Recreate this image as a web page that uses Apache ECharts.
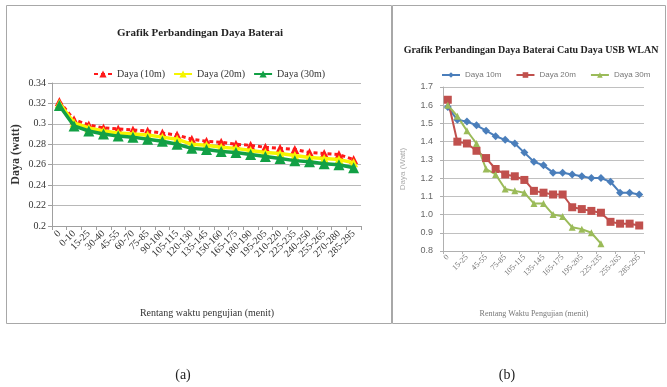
<!DOCTYPE html>
<html><head><meta charset="utf-8">
<script src="https://cdn.jsdelivr.net/npm/echarts@6/dist/echarts.min.js"></script>
<style>html,body{margin:0;padding:0;background:#fff}#c{width:667px;height:387px}</style>
</head><body><div id="c"></div>
<script>
// ---- Chart (a) ----
const catsA = ['0','0-10','15-25','30-40','45-55','60-70','75-85','90-100','105-115','120-130','135-145','150-160','165-175','180-190','195-205','210-220','225-235','240-250','255-265','270-280','285-295'];
const daya10mA = [0.322,0.304,0.299,0.296,0.295,0.294,0.293,0.291,0.289,0.285,0.283,0.282,0.280,0.279,0.277,0.276,0.275,0.272,0.271,0.270,0.265];
const daya20mA = [0.320,0.301,0.296,0.293,0.291,0.290,0.289,0.287,0.285,0.280,0.279,0.277,0.276,0.274,0.272,0.271,0.269,0.267,0.266,0.265,0.262];
const daya30mA = [0.318,0.298,0.293,0.290,0.288,0.287,0.285,0.283,0.280,0.276,0.275,0.273,0.272,0.270,0.268,0.266,0.264,0.263,0.261,0.260,0.257];
const namesA = ['Daya (10m)','Daya (20m)','Daya (30m)'];
// ---- Chart (b) ----
const catsB = ['0','0-10','15-25','30-40','45-55','60-70','75-85','90-100','105-115','120-130','135-145','150-160','165-175','180-190','195-205','210-220','225-235','240-250','255-265','270-280','285-295'];
const daya10mB = [1.59,1.52,1.51,1.49,1.46,1.43,1.41,1.39,1.34,1.29,1.27,1.23,1.23,1.22,1.21,1.20,1.20,1.18,1.12,1.12,1.11];
const daya20mB = [1.63,1.40,1.39,1.35,1.31,1.25,1.22,1.21,1.19,1.13,1.12,1.11,1.11,1.04,1.03,1.02,1.01,0.96,0.95,0.95,0.94];
const daya30mB = [1.60,1.54,1.46,1.39,1.25,1.22,1.14,1.13,1.12,1.06,1.06,1.00,0.99,0.93,0.92,0.90,0.84];
const namesB = ['Daya 10m','Daya 20m','Daya 30m'];

const serif = "'Liberation Serif', 'DejaVu Serif', serif";
const narrow = "'Liberation Sans Narrow', 'Liberation Sans', sans-serif";

const chart = echarts.init(document.getElementById('c'), null, {renderer: 'canvas'});
chart.setOption({
  animation: false,
  backgroundColor: '#ffffff',
  graphic: [
    {type: 'rect', z: -10, shape: {x: 6.5, y: 5.5, width: 385, height: 318}, style: {fill: '#fff', stroke: '#a8a8a8', lineWidth: 1}},
    {type: 'rect', z: -10, shape: {x: 392.5, y: 5.5, width: 273, height: 318}, style: {fill: '#fff', stroke: '#a8a8a8', lineWidth: 1}},
    {type: 'text', x: 200, y: 33, style: {text: 'Grafik Perbandingan Daya Baterai', font: 'bold 11px ' + serif, fill: '#222', textAlign: 'center', textVerticalAlign: 'middle'}},
    {type: 'text', x: 531, y: 50, style: {text: 'Grafik Perbandingan Daya Baterai Catu Daya USB WLAN', font: 'bold 10px ' + serif, fill: '#222', textAlign: 'center', textVerticalAlign: 'middle'}},
    {type: 'text', x: 207, y: 313, style: {text: 'Rentang waktu pengujian (menit)', font: '10px ' + serif, fill: '#333', textAlign: 'center', textVerticalAlign: 'middle'}},
    {type: 'text', x: 534, y: 314, style: {text: 'Rentang Waktu Pengujian (menit)', font: '8px ' + serif, fill: '#777', textAlign: 'center', textVerticalAlign: 'middle'}},
    {type: 'text', x: 183, y: 375, style: {text: '(a)', font: '14px ' + serif, fill: '#222', textAlign: 'center', textVerticalAlign: 'middle'}},
    {type: 'text', x: 507, y: 375, style: {text: '(b)', font: '14px ' + serif, fill: '#222', textAlign: 'center', textVerticalAlign: 'middle'}}
  ],
  legend: [
    {data: namesA, left: 88, top: 64, itemWidth: 18, itemHeight: 9, itemGap: 8,
     textStyle: {fontFamily: serif, fontSize: 10, color: '#333'}},
    {data: namesB, left: 436, top: 66, width: 228, orient: 'horizontal', itemWidth: 18, itemHeight: 7, itemGap: 14,
     textStyle: {fontFamily: narrow, fontSize: 8, color: '#777'}}
  ],
  grid: [
    {left: 52, top: 83, width: 309, height: 143, outerBoundsMode: 'none', containLabel: false},
    {left: 443, top: 87, width: 201, height: 164, outerBoundsMode: 'none', containLabel: false}
  ],
  xAxis: [
    {type: 'category', gridIndex: 0, data: catsA, boundaryGap: true,
     axisLine: {lineStyle: {color: '#a0a0a0'}}, axisTick: {show: true, length: 4, lineStyle: {color: '#a0a0a0'}},
     axisLabel: {rotate: 45, interval: 0, fontSize: 10, fontFamily: serif, color: '#333', margin: 6}},
    {type: 'category', gridIndex: 1, data: catsB, boundaryGap: true,
     axisLine: {lineStyle: {color: '#b0b0b0'}}, axisTick: {show: true, length: 3, lineStyle: {color: '#b0b0b0'}},
     axisLabel: {rotate: 45, interval: 1, fontSize: 8, fontFamily: serif, color: '#777', margin: 5}}
  ],
  yAxis: [
    {type: 'value', gridIndex: 0, min: 0.2, max: 0.34, interval: 0.02,
     name: 'Daya (watt)', nameLocation: 'middle', nameGap: 30,
     nameTextStyle: {fontFamily: serif, fontWeight: 'bold', fontSize: 12, color: '#333'},
     axisLine: {show: true, lineStyle: {color: '#a0a0a0'}}, axisTick: {show: true, length: 4, lineStyle: {color: '#a0a0a0'}},
     splitLine: {lineStyle: {color: '#b8b8b8'}},
     axisLabel: {fontSize: 10, fontFamily: serif, color: '#333', margin: 6}},
    {type: 'value', gridIndex: 1, min: 0.8, max: 1.7, interval: 0.1,
     name: 'Daya (Watt)', nameLocation: 'middle', nameGap: 36,
     nameTextStyle: {fontFamily: narrow, fontSize: 8, color: '#aaa'},
     axisLine: {show: true, lineStyle: {color: '#b0b0b0'}}, axisTick: {show: true, length: 3, lineStyle: {color: '#b0b0b0'}},
     splitLine: {lineStyle: {color: '#c0c0c0'}},
     axisLabel: {fontSize: 9, fontFamily: narrow, color: '#666', margin: 10, formatter: v => v.toFixed(1)}}
  ],
  series: [
    {name: namesA[0], type: 'line', xAxisIndex: 0, yAxisIndex: 0, data: daya10mA, color: '#ff1a1a', showAllSymbol: true,
     symbol: 'triangle', symbolSize: 9, lineStyle: {width: 3, type: [4, 3]}, z: 2},
    {name: namesA[1], type: 'line', xAxisIndex: 0, yAxisIndex: 0, data: daya20mA, color: '#f5f500', showAllSymbol: true,
     symbol: 'triangle', symbolSize: 9, lineStyle: {width: 3.5}, z: 3},
    {name: namesA[2], type: 'line', xAxisIndex: 0, yAxisIndex: 0, data: daya30mA, color: '#12a045', showAllSymbol: true,
     symbol: 'triangle', symbolSize: 11, lineStyle: {width: 3.5}, z: 4},
    {name: namesB[0], type: 'line', xAxisIndex: 1, yAxisIndex: 1, data: daya10mB, color: '#4a7ebb', showAllSymbol: true,
     symbol: 'diamond', symbolSize: 8, lineStyle: {width: 2}},
    {name: namesB[1], type: 'line', xAxisIndex: 1, yAxisIndex: 1, data: daya20mB, color: '#c0504d', showAllSymbol: true,
     symbol: 'rect', symbolSize: 8, lineStyle: {width: 2}},
    {name: namesB[2], type: 'line', xAxisIndex: 1, yAxisIndex: 1, data: daya30mB, color: '#9bbb59', showAllSymbol: true,
     symbol: 'triangle', symbolSize: 7, lineStyle: {width: 2}}
  ]
});
</script>
</body></html>
